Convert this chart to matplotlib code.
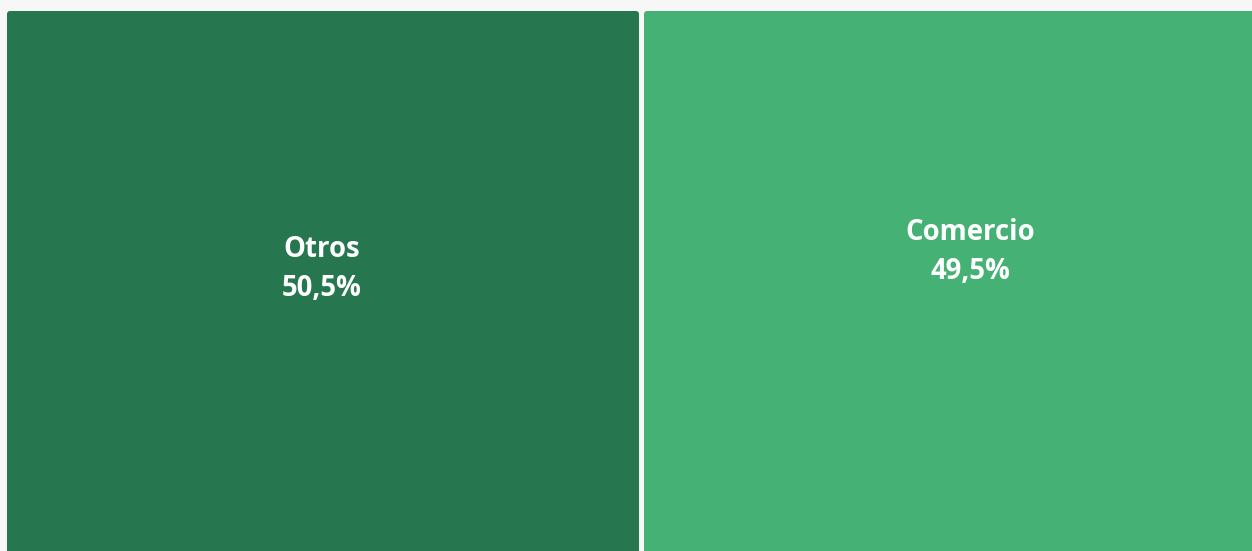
import matplotlib.pyplot as plt
from matplotlib.patches import FancyBboxPatch

# Treemap data
categories = ["Otros", "Comercio"]
shares = [50.5, 49.5]
colors = ["#26774F", "#46B175"]

W, H, DPI = 1252, 551, 100
GAP = 0.4  # in share units

fig = plt.figure(figsize=(W / DPI, H / DPI), dpi=DPI, facecolor="#f7f7f8")
ax = fig.add_axes([7 / W, 0, 1 - 7 / W, (H - 11) / H])
ax.set_facecolor("white")
ax.set_xlim(0, 99.09)
ax.set_ylim(0, 1)
ax.axis("off")
ax.patch.set_visible(True)

# label placement (axes fraction) for each tile
label_pos = [(0.253, 0.523), (0.7735, 0.553)]

x0 = 0
for i, (cat, val, col) in enumerate(zip(categories, shares, colors)):
    left = x0 + (GAP / 2 if i > 0 else 0)
    right = x0 + val - (GAP / 2 if i < len(shares) - 1 else 0)
    box = FancyBboxPatch((left, -0.2), right - left, 1.2,
                         boxstyle="round,pad=0,rounding_size=0.24",
                         mutation_aspect=0.023,
                         facecolor=col, edgecolor="none", clip_on=True)
    ax.add_patch(box)
    lx, ly = label_pos[i]
    ax.text(lx, ly, "{}\n{}%".format(cat, ("%.1f" % val).replace(".", ",")),
            transform=ax.transAxes, ha="center", va="center",
            color="white", fontsize=19.8, fontweight="bold",
            family="Open Sans", linespacing=1.45)
    x0 += val

fig.savefig("out.png", dpi=DPI, facecolor=fig.get_facecolor())
